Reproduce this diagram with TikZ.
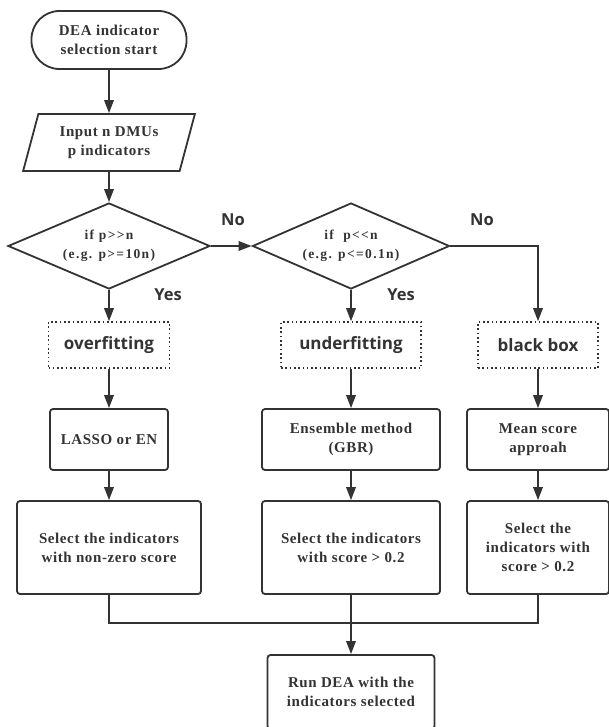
\documentclass[tikz,border=0pt]{standalone}
\usepackage{fontspec}
\usetikzlibrary{shapes.geometric,arrows.meta}
\newfontfamily\serifb[LetterSpace=4]{Liberation Serif}
\newfontfamily\serifd[LetterSpace=10]{Liberation Serif}
\newfontfamily\sansb{Open Sans}
\definecolor{ink}{HTML}{333333}
\tikzset{
  base/.style={draw=ink, line width=1.8pt, text=ink, align=center, inner sep=0pt},
  boxtxt/.style={font=\serifb\bfseries\fontsize{15}{19}\selectfont},
  procbox/.style={base, boxtxt, rectangle, rounded corners=3pt},
  termbox/.style={base, boxtxt, rectangle, rounded corners=28pt, minimum width=155pt, minimum height=58pt},
  iobox/.style={base, boxtxt, trapezium, trapezium left angle=71.6, trapezium right angle=108.4,
     trapezium stretches=true, minimum width=172pt, minimum height=57pt},
  decbox/.style={base, diamond, aspect=2.35, font=\serifd\bfseries\fontsize{13.5}{19}\selectfont, minimum height=86pt},
  dotbox/.style={draw=ink, line width=1.6pt, dash pattern=on 1.6pt off 2.7pt, text=ink,
     rectangle, font=\sansb\bfseries\fontsize{17}{20}\selectfont, minimum height=46pt, inner sep=0pt},
  lbl/.style={text=ink, font=\sansb\bfseries\fontsize{16.5}{20}\selectfont, inner sep=0pt},
  conn/.style={draw=ink, line width=1.8pt, -{Triangle[length=13pt,width=9.5pt]}},
  line/.style={draw=ink, line width=1.8pt},
}
\begin{document}
\begin{tikzpicture}[x=1pt,y=-1pt]
\useasboundingbox (0,0) rectangle (609,727);
\clip (0,0) rectangle (609,727);
% column 1
\node[termbox] (start) at (109,40) {DEA indicator\\selection start};
\node[iobox] (input) at (109,142.5) {Input n DMUs\\p indicators};
\node[decbox, minimum width=202pt] (d1) at (109,246) {if p>>n\\(e.g. p>=10n)};
\node[dotbox, minimum width=121pt] (over) at (109,345) {overfitting};
\node[procbox, minimum width=118pt, minimum height=61pt] (lasso) at (109,439.5) {LASSO or EN};
\node[procbox, minimum width=184pt, minimum height=93pt] (sel1) at (109,547.5) {Select the indicators\\with non-zero score};
% column 2
\node[decbox, minimum width=197pt] (d2) at (351,246) {if\ \ p<<n\\(e.g. p<=0.1n)};
\node[dotbox, minimum width=140pt] (under) at (351,345) {underfitting};
\node[procbox, minimum width=178pt, minimum height=61pt] (ens) at (351,439.5) {Ensemble method\\(GBR)};
\node[procbox, minimum width=178pt, minimum height=93pt] (sel2) at (351,547.5) {Select the indicators\\with score > 0.2};
\node[procbox, minimum width=167pt, minimum height=74pt] (run) at (351,692) {Run DEA with the\\indicators selected};
% column 3
\node[dotbox, minimum width=120pt] (bbox) at (538,345) {black box};
\node[procbox, minimum width=142pt, minimum height=61pt] (mean) at (538,439.5) {Mean score\\approah};
\node[procbox, minimum width=142pt, minimum height=93pt] (sel3) at (538,547.5) {Select the\\indicators with\\score > 0.2};
% labels
\node[lbl] (no1) at (233,220) {No};
\node[lbl] (no2) at (482,220) {No};
\node[lbl] (yes1) at (168,295) {Yes};
\node[lbl] (yes2) at (401,295) {Yes};
\coordinate (mj) at (351,623);
% connectors
\draw[conn] (start) -- (input);
\draw[conn] (input) -- (d1);
\draw[conn] (d1) -- (over);
\draw[conn] (over) -- (lasso);
\draw[conn] (lasso) -- (sel1);
\draw[conn] (d1.east) -- (d2.west);
\draw[conn] (d2) -- (under);
\draw[conn] (under) -- (ens);
\draw[conn] (ens) -- (sel2);
\draw[conn] (d2.east) -| (bbox.north);
\draw[conn] (bbox) -- (mean);
\draw[conn] (mean) -- (sel3);
\draw[line] (sel1.south) |- (mj) -| (sel3.south);
\draw[line] (sel2.south) -- (mj);
\draw[conn] (mj) -- (run.north);
\end{tikzpicture}
\end{document}
